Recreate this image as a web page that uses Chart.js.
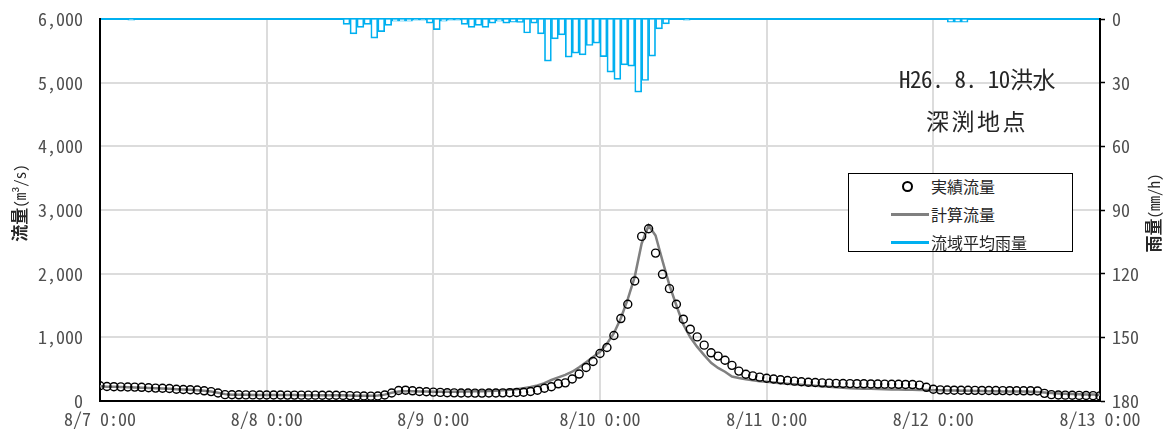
<!DOCTYPE html>
<html lang="ja">
<head>
<meta charset="utf-8">
<script src="https://cdn.jsdelivr.net/npm/chart.js@4/dist/chart.umd.min.js"></script>
<style>
  html, body { margin: 0; padding: 0; background: #fff; }
  #wrap { position: relative; width: 1174px; height: 434px; overflow: hidden; }
  #chart { position: absolute; left: 0; top: 0; }
  .jp { font-family: "Noto Sans Mono CJK JP", "Noto Sans CJK JP", sans-serif; color: #262626; }
  #title { position: absolute; left: 877px; width: 200px; top: 57px; text-align: center; font-size: 23px; line-height: 42px; }
  #title .l1 { letter-spacing: -0.4px; }
  #title .l2 { letter-spacing: 2.5px; }
  #legend { position: absolute; left: 848px; top: 173px; width: 223px; height: 77px; border: 1px solid #000; background: #fff; }
  #legend .item { position: absolute; left: 0; height: 20px; font-size: 16px; line-height: 20px; }
  #legend .txt { position: absolute; left: 82px; top: 0; white-space: nowrap; }
  #legend .ring { position: absolute; left: 53px; top: 5px; width: 7px; height: 7px; border: 2px solid #000; border-radius: 50%; }
  #legend .ln { position: absolute; left: 42px; top: 9px; width: 38px; height: 3px; }
  .ytitle { position: absolute; white-space: nowrap; font-size: 17px; font-weight: bold; transform: rotate(-90deg); transform-origin: center center; text-align: center; width: 120px; height: 22px; line-height: 22px; }
  .ytitle small { font-size: 15px; font-weight: normal; }
</style>
</head>
<body>
<div id="wrap">
  <canvas id="chart" width="1174" height="434"></canvas>
  <div id="title" class="jp"><span class="l1">H26. 8. 10洪水</span><br><span class="l2">深渕地点</span></div>
  <div id="legend" class="jp">
    <div class="item" style="top:2px;width:100%"><span class="ring"></span><span class="txt">実績流量</span></div>
    <div class="item" style="top:30px;width:100%"><span class="ln" style="background:#808080"></span><span class="txt">計算流量</span></div>
    <div class="item" style="top:58px;width:100%"><span class="ln" style="background:#00b0f0"></span><span class="txt">流域平均雨量</span></div>
  </div>
  <div class="ytitle jp" style="left:-41px;top:192px;">流量<small>(m³/s)</small></div>
  <div class="ytitle jp" style="left:1093px;top:202px;">雨量<small>(mm/h)</small></div>
</div>
<script>
// Hourly series from 8/7 0:00 (hour 0) to 8/13 0:00 (hour 144)
const dateLabels = ["8/7 0:00", "8/8 0:00", "8/9 0:00", "8/10 0:00", "8/11 0:00", "8/12 0:00", "8/13 0:00"];
const flowTicks = [0, 1000, 2000, 3000, 4000, 5000, 6000];
const rainTicks = [0, 30, 60, 90, 120, 150, 180];

// 実績流量 (m3/s), one value per hour, hour 0..144
const observedFlow = [
  240, 228, 225, 222, 220, 218, 215, 208, 203, 200, 197, 185, 180, 176, 172, 160, 148, 125, 100, 98,
  97, 96, 96, 95, 95, 94, 94, 93, 93, 92, 92, 92, 91, 90, 90, 88, 85, 80, 78, 76,
  78, 95, 125, 165, 170, 160, 150, 145, 140, 135, 130, 128, 126, 125, 124, 124, 125, 126, 128, 130,
  133, 138, 150, 170, 200, 225, 270, 285, 345, 423, 527, 621, 746, 841, 1029, 1295, 1520, 1885, 2585, 2705,
  2323, 1990, 1765, 1520, 1285, 1128, 1007, 877, 757, 705, 640, 560, 470, 420, 395, 375, 358, 345, 333, 322,
  312, 302, 295, 290, 285, 280, 277, 275, 273, 272, 270, 268, 266, 265, 263, 262, 260, 258, 250, 215,
  185, 175, 172, 170, 169, 168, 167, 166, 165, 164, 163, 162, 161, 160, 160, 158, 120, 100, 95, 92,
  90, 88, 86, 84, 80
];

// 計算流量 (m3/s), hour 0..144
const computedFlow = [
  230, 225, 222, 219, 216, 213, 210, 205, 200, 196, 192, 186, 180, 175, 170, 160, 148, 128, 108, 100,
  98, 97, 96, 95, 95, 94, 94, 93, 93, 92, 92, 92, 91, 90, 90, 89, 87, 84, 82, 82,
  88, 100, 130, 150, 155, 155, 150, 148, 146, 145, 145, 146, 148, 150, 152, 155, 158, 162, 168, 175,
  185, 200, 220, 245, 280, 330, 370, 410, 460, 530, 610, 690, 773, 900, 1065, 1300, 1600, 1950, 2475, 2757,
  2600, 2200, 1820, 1500, 1200, 1000, 850, 720, 600, 520, 460, 385, 360, 340, 325, 312, 302, 290, 280, 270,
  262, 255, 247, 238, 230, 222, 215, 207, 200, 197, 194, 191, 188, 185, 182, 180, 178, 176, 174, 172,
  170, 168, 166, 164, 162, 160, 158, 156, 154, 152, 151, 150, 150, 148, 145, 140, 132, 125, 118, 112,
  108, 105, 103, 101, 100
];

// 流域平均雨量 (mm/h), value for hour h covers h..h+1, hour 0..143
const rainfall = [
  0, 0, 0, 0, 0.6, 0, 0, 0, 0, 0, 0, 0, 0, 0, 0, 0, 0, 0, 0, 0,
  0, 0, 0, 0, 0, 0, 0, 0, 0, 0, 0, 0, 0, 0, 0, 2.5, 7, 4, 2.5, 9,
  6, 3, 1, 1, 1, 0.5, 0.5, 2, 5, 1, 0.5, 0.5, 2.5, 4, 3, 4, 2, 1, 2, 1.5,
  1.6, 6.6, 2, 7, 19.9, 9.4, 7.5, 18, 16.1, 16.9, 12.5, 11.4, 17.7, 25, 28.5, 21.6, 22.2, 34.5, 29, 17.5,
  4.7, 2.3, 0, 0, 0.5, 0, 0, 0, 0, 0, 0, 0, 0, 0, 0, 0, 0, 0, 0, 0,
  0, 0, 0, 0, 0, 0, 0, 0, 0, 0, 0, 0, 0, 0, 0, 0, 0, 0, 0, 0,
  0, 0, 1.5, 1.5, 1.5, 0, 0, 0, 0, 0, 0, 0, 0, 0, 0, 0, 0, 0, 0, 0,
  0, 0, 0, 0
];

const tickFont = { family: '"Noto Sans Mono CJK JP", "Noto Sans CJK JP", monospace', size: 18 };
const tickColor = '#505050';
const gridColor = '#dcdcdc';

new Chart(document.getElementById('chart'), {
  data: {
    datasets: [
      {
        type: 'line',
        label: '実績流量',
        data: observedFlow.map((v, i) => ({ x: i, y: v })),
        showLine: false,
        pointRadius: 4,
        pointBorderWidth: 1.4,
        pointBorderColor: '#000',
        pointBackgroundColor: 'rgba(0,0,0,0)',
        yAxisID: 'y',
        order: 1
      },
      {
        type: 'line',
        label: '計算流量',
        data: computedFlow.map((v, i) => ({ x: i, y: v })),
        borderColor: '#808080',
        borderWidth: 2.5,
        pointRadius: 0,
        tension: 0,
        yAxisID: 'y',
        order: 2
      },
      {
        type: 'bar',
        label: '流域平均雨量',
        data: rainfall.map((v, i) => ({ x: i + 0.5, y: v })),
        backgroundColor: '#fff',
        borderColor: '#00b0f0',
        borderWidth: 1.7,
        borderSkipped: 'start',
        barPercentage: 1,
        categoryPercentage: 1,
        yAxisID: 'y2',
        order: 3
      }
    ]
  },
  options: {
    responsive: false,
    animation: false,
    layout: { padding: { top: 19, left: 0, right: 0, bottom: 0 } },
    plugins: { legend: { display: false }, tooltip: { enabled: false } },
    scales: {
      x: {
        type: 'linear',
        position: 'bottom',
        offset: false,
        min: 0,
        max: 144,
        afterBuildTicks: s => { s.ticks = dateLabels.map((_, i) => ({ value: i * 24 })); },
        ticks: {
          callback: v => dateLabels[Math.round(v / 24)],
          font: tickFont, color: tickColor, padding: 7, maxRotation: 0, autoSkip: false
        },
        grid: { color: gridColor, lineWidth: 2, drawTicks: false, offset: false },
        border: { color: '#000', width: 2 },
        afterFit: s => { s.height = 33; }
      },
      x2: {
        type: 'linear',
        position: 'top',
        offset: false,
        min: 0,
        max: 144,
        ticks: { display: false },
        grid: { display: false, drawTicks: false },
        border: { color: '#00b0f0', width: 2 },
        afterFit: s => { s.height = 0; }
      },
      y: {
        position: 'left',
        min: 0,
        max: 6000,
        afterBuildTicks: s => { s.ticks = flowTicks.map(v => ({ value: v })); },
        ticks: {
          callback: v => v.toLocaleString('en-US'),
          font: tickFont, color: tickColor, padding: 2
        },
        grid: { color: gridColor, lineWidth: 2, drawTicks: true, tickLength: 15, tickColor: 'rgba(0,0,0,0)' },
        border: { color: '#000', width: 2 },
        afterFit: s => { s.width = 100; }
      },
      y2: {
        position: 'right',
        min: 0,
        max: 180,
        reverse: true,
        afterBuildTicks: s => { s.ticks = rainTicks.map(v => ({ value: v })); },
        ticks: { font: tickFont, color: tickColor, padding: 7 },
        grid: { drawOnChartArea: false, drawTicks: true, tickLength: 5, tickColor: '#000', tickWidth: 1.5 },
        border: { color: '#000', width: 2 },
        afterFit: s => { s.width = 74; }
      }
    }
  }
});
</script>
</body>
</html>
